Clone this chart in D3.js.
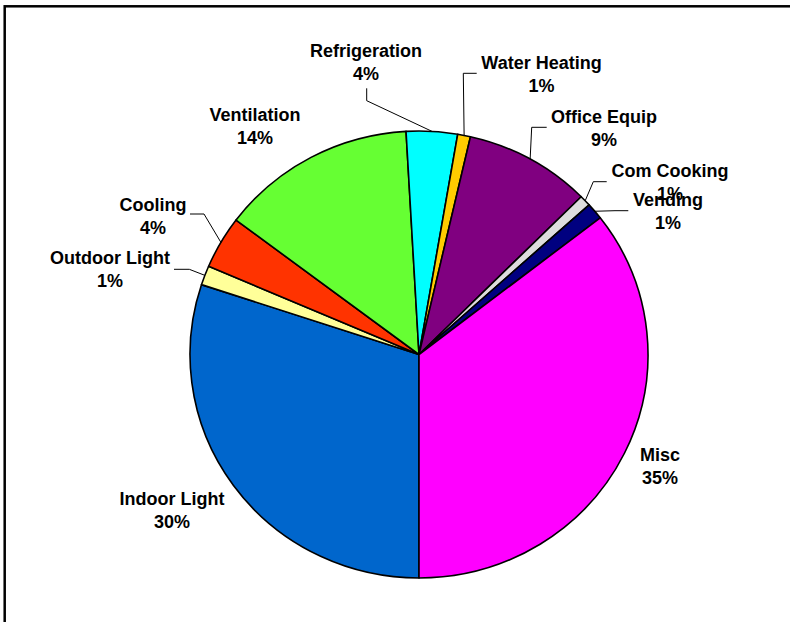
<!DOCTYPE html>
<html>
<head>
<meta charset="utf-8">
<script src="https://cdn.jsdelivr.net/npm/d3@7"></script>
<style>
    body { margin: 0; background: #fff; }
    svg text { font-family: "Liberation Sans", Arial, sans-serif; font-weight: bold; font-size: 18px; fill: #000; }
</style>
</head>
<body>
<svg id="chart" width="790" height="622"></svg>
<script>
// end-use shares, clockwise from 6 o'clock
const categories = ['Indoor Light', 'Outdoor Light', 'Cooling', 'Ventilation', 'Refrigeration',
    'Water Heating', 'Office Equip', 'Com Cooking', 'Vending', 'Misc'];
const shares = [30.0, 1.4, 3.8, 13.8, 3.6, 0.9, 8.9, 0.8, 1.2, 35.4];
const colors = ['#0066cc', '#ffff99', '#ff3300', '#66ff33', '#00ffff',
    '#ffcc00', '#800080', '#dddddd', '#000080', '#ff00ff'];

// label placement: x centre, first baseline, leader start + elbow (null = no leader)
const labelLayout = {
    'Indoor Light':  { x: 172, y: 505, lead: null },
    'Outdoor Light': { x: 110, y: 264, lead: [[174, 269.3], [189.3, 269.3]] },
    'Cooling':       { x: 153, y: 210.5, lead: [[190, 214], [204, 214]] },
    'Ventilation':   { x: 255, y: 121, lead: null },
    'Refrigeration': { x: 366, y: 57, lead: [[366.7, 88.3], [366.7, 100.7]] },
    'Water Heating': { x: 541.5, y: 69, lead: [[476.7, 73.3], [463.3, 73.3]] },
    'Office Equip':  { x: 604, y: 123, lead: [[546.7, 127.3], [531.7, 127.3]] },
    'Com Cooking':   { x: 670, y: 177, lead: [[606.7, 181.7], [593.3, 181.7]] },
    'Vending':       { x: 668, y: 206, lead: [[628.3, 210.7], [615, 210.7]] },
    'Misc':          { x: 660, y: 461, lead: null }
};

const cx = 419, cy = 354.5, rx = 229, ry = 223.5;
const lineGap = 23;

const svg = d3.select('#chart');

// outer frame, runs off the right and bottom edges
svg.append('rect')
    .attr('x', 4.7).attr('y', 6.3)
    .attr('width', 900).attr('height', 900)
    .attr('fill', 'none')
    .attr('stroke', '#000')
    .attr('stroke-width', 2.5);

const data = categories.map((c, i) => ({ name: c, value: shares[i], color: colors[i] }));
const total = d3.sum(shares);

const pie = d3.pie()
    .sort(null)
    .value(d => d.value)
    .startAngle(Math.PI)
    .endAngle(3 * Math.PI);
const arcs = pie(data);

const arc = d3.arc().innerRadius(0).outerRadius(rx);

// pie is slightly squashed vertically in the reference
const g = svg.append('g')
    .attr('transform', `translate(${cx},${cy}) scale(1,${ry / rx})`);

g.selectAll('path')
    .data(arcs)
    .join('path')
    .attr('d', arc)
    .attr('fill', d => d.data.color)
    .attr('stroke', '#000')
    .attr('stroke-width', 1.6)
    .attr('stroke-linejoin', 'round')
    .attr('vector-effect', 'non-scaling-stroke');

// point on the rim at the slice's middle angle
const rimPoint = d => {
    const a = (d.startAngle + d.endAngle) / 2;
    return [cx + rx * Math.sin(a), cy - ry * Math.cos(a)];
};

const line = d3.line();
const pct = v => Math.round(v / total * 100) + '%';

arcs.forEach(d => {
    const lay = labelLayout[d.data.name];
    if (lay.lead) {
        svg.append('path')
            .attr('d', line([lay.lead[0], lay.lead[1], rimPoint(d)]))
            .attr('fill', 'none')
            .attr('stroke', '#000')
            .attr('stroke-width', 1);
    }
});

arcs.forEach(d => {
    const lay = labelLayout[d.data.name];
    const t = svg.append('text')
        .attr('text-anchor', 'middle');
    t.append('tspan').attr('x', lay.x).attr('y', lay.y).text(d.data.name);
    t.append('tspan').attr('x', lay.x).attr('y', lay.y + lineGap).text(pct(d.data.value));
});
</script>
</body>
</html>
